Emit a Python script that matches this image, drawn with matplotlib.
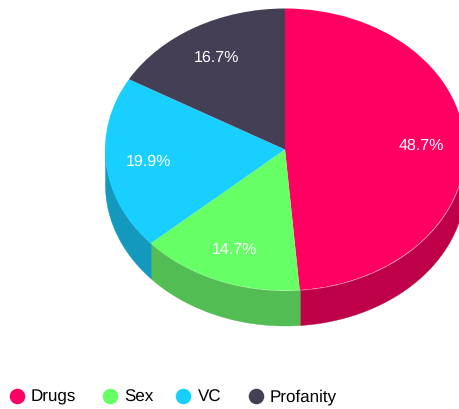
import numpy as np
import matplotlib
matplotlib.use("Agg")
import matplotlib.pyplot as plt

categories = ["Drugs", "Sex", "VC", "Profanity"]
values = [48.7, 14.7, 19.9, 16.7]
colors = ["#FF0062", "#66FF66", "#19CFFF", "#453F56"]
wall_colors = ["#BD0048", "#52BD52", "#1299BD", "#332F40"]
legend_marker_x = [17, 110, 183, 256]
legend_text_x = [31, 124, 198, 270]

W, H = 459, 410
CX, CY, RX, RY, DEPTH = 285, 150.5, 180, 141, 35

plt.rcParams["font.family"] = ["Liberation Sans", "DejaVu Sans"]
plt.rcParams["text.hinting"] = "no_hinting"
plt.rcParams["text.hinting_factor"] = 1
fig = plt.figure(figsize=(W / 100, H / 100), dpi=100)
ax = fig.add_axes([0, 0, 1, 1])
wall_d = DEPTH / RY

# side wall, drawn below the top face
edges = 90 - 3.6 * np.concatenate([[0], np.cumsum(values)])
for start, end, c in zip(edges[:-1], edges[1:], wall_colors):
    t = np.radians(np.linspace(start, end, 300))
    x, y = np.cos(t), np.sin(t)
    keep = y <= 0
    if keep.sum() < 2:
        continue
    ax.fill_between(x[keep], y[keep] - wall_d, y[keep], color=c, lw=0.3, zorder=1)

wedges, _, autotexts = ax.pie(
    values, colors=colors, startangle=90, counterclock=False,
    autopct="%.1f%%", pctdistance=0.76,
    textprops=dict(color="white", fontsize=11.8),
    wedgeprops=dict(linewidth=0), normalize=True,
)
for w in wedges:
    w.set_zorder(2)
for t in autotexts:
    t.set_zorder(3)
ax.set_aspect("auto")
ax.set_xlim((0 - CX) / RX, (W - CX) / RX)
ax.set_ylim((CY - H) / RY, CY / RY)
ax.axis("off")

# legend in pixel coordinates
lax = fig.add_axes([0, 0, 1, 1], facecolor="none")
lax.set_xlim(0, W)
lax.set_ylim(H, 0)
lax.axis("off")
for name, c, mx, tx in zip(categories, colors, legend_marker_x, legend_text_x):
    lax.scatter([mx], [397], s=125, color=c, linewidths=0)
    lax.text(tx, 397, name, fontsize=12, color="black", va="center", ha="left")

fig.savefig("out.png", dpi=100)
